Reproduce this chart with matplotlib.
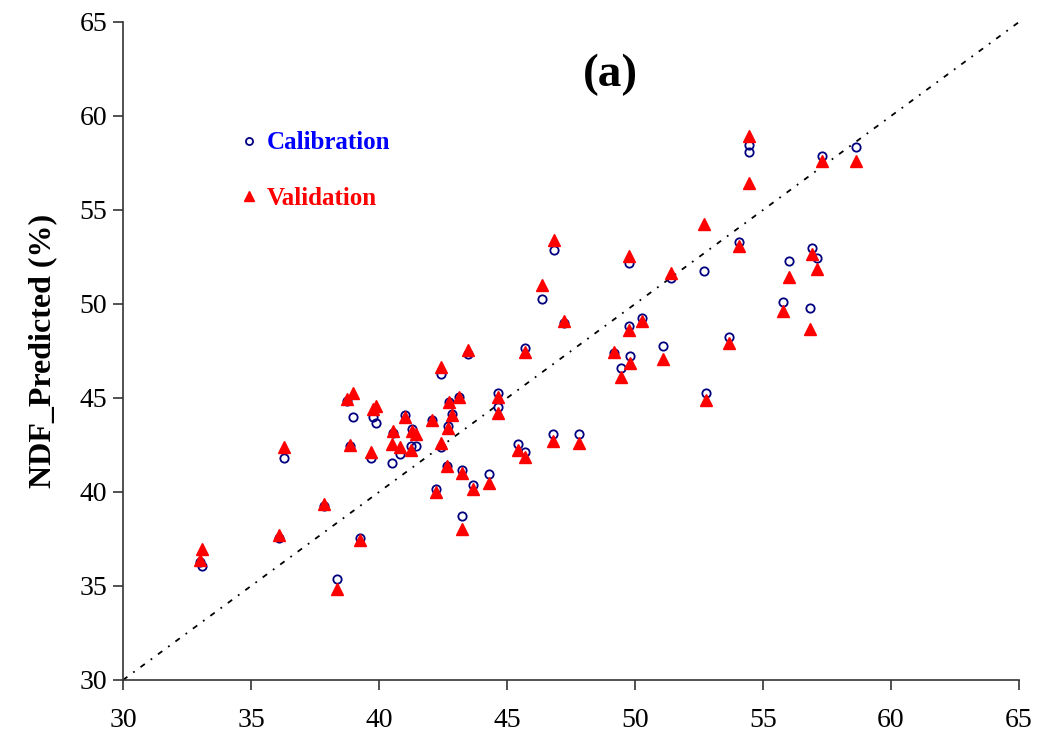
import numpy as np
import matplotlib
matplotlib.use("Agg")
import matplotlib.pyplot as plt

# measured NDF (%) and predicted values for each sample
ndf_measured = [33.0, 33.1, 36.1, 36.3, 37.85, 38.35, 38.74, 38.97, 38.87, 39.26,
                39.67, 39.75, 39.9, 40.52, 40.56, 40.82, 41.0, 41.27, 41.45, 41.24,
                42.05, 42.41, 42.23, 42.41, 42.67, 42.71, 42.75, 42.84, 43.14, 43.23,
                43.23, 43.46, 43.66, 44.31, 44.66, 44.66, 45.44, 45.7, 45.7, 46.35,
                46.84, 46.78, 47.24, 47.8, 49.18, 49.44, 49.77, 49.78, 49.8, 50.26,
                51.08, 51.41, 52.7, 52.77, 53.68, 54.07, 54.47, 54.47, 55.77, 56.02,
                56.84, 56.9, 57.1, 57.29, 58.62]
ndf_calibration = [36.25, 36.05, 37.55, 41.8, 39.25, 35.35, 44.86, 44.0, 42.45, 37.57,
                   41.8, 44.0, 43.65, 41.56, 43.15, 42.01, 44.1, 43.33, 42.45, 42.45,
                   43.85, 46.28, 40.14, 42.37, 41.38, 43.51, 44.8, 44.15, 45.04, 41.17,
                   38.74, 47.34, 40.37, 40.96, 45.28, 44.5, 42.55, 42.11, 47.64, 50.27,
                   52.87, 43.07, 49.0, 43.07, 47.38, 46.58, 48.83, 52.16, 47.23, 49.24,
                   47.77, 51.37, 51.73, 45.28, 48.22, 53.3, 58.46, 58.1, 50.13, 52.26,
                   49.77, 52.96, 52.43, 57.87, 58.37]
ndf_validation = [36.4, 36.95, 37.7, 42.4, 39.35, 34.85, 44.97, 45.25, 42.5, 37.45,
                  42.15, 44.4, 44.6, 42.55, 43.24, 42.38, 44.0, 43.25, 43.1, 42.23,
                  43.83, 46.64, 40.02, 42.62, 41.38, 43.39, 44.8, 44.1, 45.04, 41.0,
                  38.03, 47.55, 40.14, 40.5, 45.04, 44.18, 42.23, 41.85, 47.47, 51.01,
                  53.4, 42.73, 49.11, 42.63, 47.47, 46.13, 48.62, 52.55, 46.88, 49.11,
                  47.05, 51.63, 54.26, 44.89, 47.91, 53.1, 58.95, 56.46, 49.65, 51.46,
                  48.67, 52.66, 51.85, 57.62, 57.62]

axis_range = [30, 65]
ticks = [30, 35, 40, 45, 50, 55, 60, 65]

plt.rcParams["font.family"] = ["Liberation Serif", "DejaVu Serif"]

fig = plt.figure(figsize=(10.47, 7.4), dpi=100)
ax = fig.add_axes([0.1175, 0.0811, 0.8558, 0.8892])

# 1:1 line
ax.plot(axis_range, axis_range, color="black", lw=1.3, linestyle=(0, (3, 4, 1, 4)), zorder=1)

ax.plot(ndf_measured, ndf_calibration, linestyle="none", marker="o", ms=6,
        mfc="none", mec="#000080", mew=1.3, label="Calibration", zorder=2)
ax.plot(ndf_measured, ndf_validation, linestyle="none", marker="^", ms=8.5,
        mfc="red", mec="red", label="Validation", zorder=3)

ax.set_xlim(axis_range)
ax.set_ylim(axis_range)
ax.set_xticks(ticks)
ax.set_yticks(ticks)
ax.spines["top"].set_visible(False)
ax.spines["right"].set_visible(False)
for s in ["left", "bottom"]:
    ax.spines[s].set_color("#333333")
    ax.spines[s].set_linewidth(1.2)
ax.tick_params(axis="both", direction="out", length=7.5, width=1.2, labelsize=20, color="#333333")
ax.tick_params(axis="x", pad=13)
ax.tick_params(axis="y", pad=4)

ax.set_ylabel("NDF_Predicted (%)", fontsize=23, fontweight="bold", labelpad=16)

ax.text(0.5445, 0.92, "(a)", transform=ax.transAxes, fontsize=34, fontweight="bold",
        ha="center", va="center")

leg = ax.legend(loc="upper left", bbox_to_anchor=(0.107, 0.868), frameon=False,
                labelspacing=1.3, handlelength=0.6, handletextpad=0.4,
                markerscale=0.85, prop={"weight": "bold", "size": 18})
leg.get_texts()[0].set_color("#0000FF")
leg.get_texts()[1].set_color("red")

plt.savefig("out.png", dpi=100)
